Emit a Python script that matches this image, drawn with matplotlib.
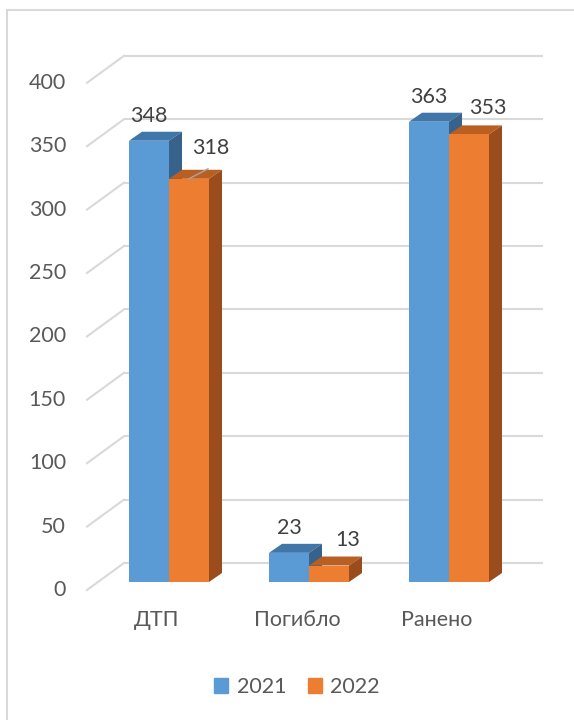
import matplotlib
matplotlib.use("Agg")

import matplotlib.pyplot as plt
from matplotlib.patches import Polygon, Rectangle

# Data
categories = ["ДТП", "Погибло", "Ранено"]
series_names = ["2021", "2022"]
values_2021 = [348, 23, 363]
values_2022 = [318, 13, 353]
y_ticks = [0, 50, 100, 150, 200, 250, 300, 350, 400]

# Styles
FONT = ["Lato", "DejaVu Sans"]
FS = 15.5
TEXT = "#595959"
GRID = "#d9d9d9"
front_colors = ["#5b9bd5", "#ed7d31"]
top_colors = ["#4176a8", "#b95f22"]
side_colors = ["#36628c", "#9a4c1c"]

BAR_W = 40 / 140           # bar width in category units
DEPTH = (13 / 140, 9 / 1.268)      # bar depth offset (x, y)
BACK = (25 / 140, 19 / 1.268)      # back wall offset from bar front plane
LABEL = (-12 / 140, -8 / 1.268)    # axis label plane offset from bar front plane

fig = plt.figure(figsize=(5.74, 7.2), dpi=100)
ax = fig.add_axes([0, 0, 1, 1])
ax.set_xlim(-169 / 140, (574 - 169) / 140)
ax.set_ylim((582 - 720) / 1.268, 582 / 1.268)
ax.axis("off")

# outer chart border
fig.patches.append(Rectangle((7 / 574, -0.01), 1.0, 1 - 10 / 720 + 0.01,
                             transform=fig.transFigure, fill=False,
                             edgecolor=GRID, lw=1.5, zorder=0))

# back wall gridlines + side diagonals, tick labels
x_left_front = (87 - 169) / 140
x_left_back = x_left_front + (BACK[0] - LABEL[0])
x_right_back = (543 - 169) / 140
for t in y_ticks:
    yb = t + BACK[1]
    yf = t + LABEL[1]
    ax.plot([x_left_back, x_right_back], [yb, yb], color=GRID, lw=1.5,
            zorder=1, solid_capstyle="butt")
    ax.plot([x_left_front, x_left_back], [yf, yb], color=GRID, lw=1.5, zorder=1)
    ax.text((66 - 169) / 140, yf, str(t), ha="right", va="center",
            fontsize=FS, color=TEXT, family=FONT)

# 3D bars
series = [values_2021, values_2022]
for s, vals in enumerate(series):
    for i, v in enumerate(vals):
        x0 = i - BAR_W + s * BAR_W
        x1 = x0 + BAR_W
        dx, dy = DEPTH
        ax.bar(x0, v, width=BAR_W, align="edge", color=front_colors[s],
               edgecolor="none", zorder=3 + s)
        top = Polygon([(x0, v), (x1, v), (x1 + dx, v + dy), (x0 + dx, v + dy)],
                      closed=True, facecolor=top_colors[s], edgecolor="none",
                      zorder=2 + s)
        side = Polygon([(x1, 0), (x1 + dx, dy), (x1 + dx, v + dy), (x1, v)],
                       closed=True, facecolor=side_colors[s], edgecolor="none",
                       zorder=2 + s)
        ax.add_patch(top)
        ax.add_patch(side)

# data labels
for i, v in enumerate(values_2021):
    xc = i - BAR_W / 2
    ax.text(xc, v + 25 / 1.268, str(v), ha="center", va="center",
            fontsize=FS, color="#404040", family=FONT, zorder=6)
for i, v in enumerate(values_2022):
    xc = i + BAR_W / 2
    lx, ly = xc + 19 / 140, v + 26 / 1.268
    if i == 0:
        # dragged label with leader line
        lx, ly = xc + 21.5 / 140, v + 31 / 1.268
        ax.plot([xc, xc + 19 / 140], [v, v + 10 / 1.268], color="#a6a6a6",
                lw=1, zorder=6)
    ax.text(lx, ly, str(v), ha="center", va="center",
            fontsize=FS, color="#404040", family=FONT, zorder=6)

# category labels
for i, c in enumerate(categories):
    ax.text(i + LABEL[0], (582 - 620) / 1.268, c, ha="center", va="center",
            fontsize=FS, color=TEXT, family=FONT)

# legend
handles = [Rectangle((0, 0), 1, 1, color=front_colors[k]) for k in range(2)]
fig.legend(handles, series_names, loc="center", bbox_to_anchor=(297 / 574, 1 - 687 / 720),
           ncol=2, frameon=False, handlelength=0.65, handleheight=0.65,
           handletextpad=0.4, columnspacing=1.0,
           prop={"family": FONT, "size": FS}, labelcolor=TEXT)

fig.savefig("out.png", dpi=100)
plt.close(fig)
